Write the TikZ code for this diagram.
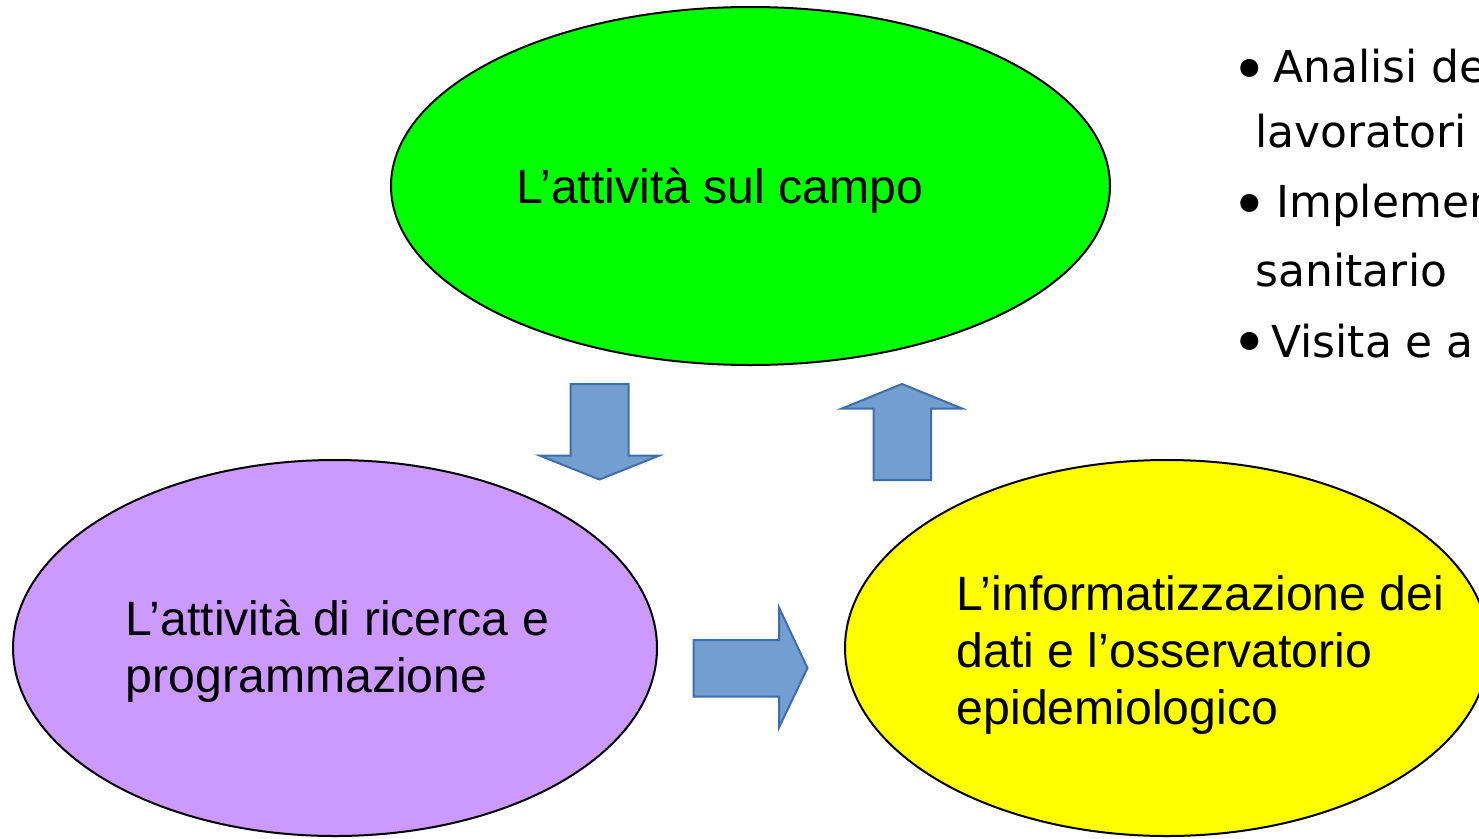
\documentclass[tikz,border=0pt]{standalone}
\usepackage{fontspec}
\setmainfont{Liberation Sans}
\newfontfamily\listfont{DejaVu Sans}
\usetikzlibrary{shapes.geometric}
\definecolor{campogreen}{HTML}{00FF00}
\definecolor{ricercapurple}{HTML}{CC99FF}
\definecolor{datiyellow}{HTML}{FFFF00}
\definecolor{arrowfill}{HTML}{729FCF}
\definecolor{arrowline}{HTML}{3E6DAE}
\tikzset{
  blob/.style={ellipse, draw=black, line width=2pt, inner sep=0pt},
  blockarrow/.style={fill=arrowfill, draw=arrowline, line width=2pt, line join=miter},
  bigtext/.style={anchor=base west, inner sep=0pt, font=\fontsize{48.2}{57}\selectfont},
  listtext/.style={anchor=base west, inner sep=0pt, font=\listfont\fontsize{44}{53}\selectfont},
  bulletmark/.style={anchor=base, inner sep=0pt, font=\listfont\fontsize{62}{70}\selectfont}
}
\begin{document}
\begin{tikzpicture}[x=1pt, y=-1pt]
\useasboundingbox (0,0) rectangle (1479,838);
\clip (0,0) rectangle (1479,838);
\fill[white] (0,0) rectangle (1479,838);
% ellipses
\node[blob, fill=campogreen, minimum width=719pt, minimum height=358pt] (campo) at (750.5,186) {};
\node[blob, fill=ricercapurple, minimum width=644pt, minimum height=376pt] (ricerca) at (335,648) {};
\node[blob, fill=datiyellow, minimum width=644pt, minimum height=376pt] (dati) at (1167,648) {};
% block arrows
\draw[blockarrow] (570.5,384) -- (628.5,384) -- (628.5,455.5) -- (659.5,455.5) -- (599.5,479.5) -- (539.5,455.5) -- (570.5,455.5) -- cycle;
\draw[blockarrow] (902,384) -- (962,408.5) -- (931,408.5) -- (931,480) -- (873.5,480) -- (873.5,408.5) -- (842,408.5) -- cycle;
\draw[blockarrow] (693.5,640) -- (779,640) -- (779,607.5) -- (807.5,668) -- (779,727.5) -- (779,696.5) -- (693.5,696.5) -- cycle;
% ellipse texts
\node[bigtext] (campoText) at (516,203.5) {L’attività sul campo};
\node[bigtext] (ricercaA) at (125.5,635.5) {L’attività di ricerca e};
\node[bigtext] (ricercaB) at (125.5,692.5) {programmazione};
\node[bigtext] (datiA) at (956.5,610) {L’informatizzazione dei};
\node[bigtext] (datiB) at (956.5,667) {dati e l’osservatorio};
\node[bigtext] (datiC) at (956.5,724) {epidemiologico};
% bullet list (cut off at the right edge)
\node[bulletmark] (b1) at (1250,91) {•};
\node[listtext] (l1) at (1273,82) {Analisi dei};
\node[listtext] (l2) at (1255,147) {lavoratori};
\node[bulletmark] (b2) at (1250,226) {•};
\node[listtext] (l3) at (1276,217) {Implementazione};
\node[listtext] (l4) at (1255.5,286) {sanitario};
\node[bulletmark] (b3) at (1250,364) {•};
\node[listtext] (l5) at (1271,357) {Visita e a};
\end{tikzpicture}
\end{document}
